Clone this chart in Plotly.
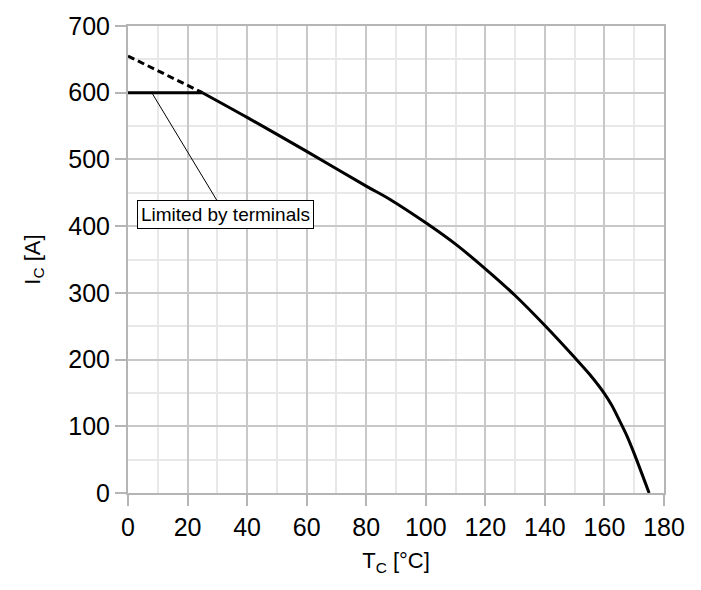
import plotly.graph_objects as go

# Collector current derating vs. case temperature
tc_curve = [25, 40, 60, 80, 88, 100, 110, 120, 130, 140, 150, 155, 160, 162.5, 165, 167.5, 170, 175]
ic_curve = [600, 563, 512, 460, 440, 405, 373, 336, 296, 251, 203, 178, 149, 131, 109, 86, 59, 0]

# Terminal current limit (flat) and the chip capability above it (dashed)
tc_limit = [0, 25]
ic_limit = [600, 600]
tc_chip = [0, 25]
ic_chip = [655, 600]

x_ticks = [0, 20, 40, 60, 80, 100, 120, 140, 160, 180]
y_ticks = [0, 100, 200, 300, 400, 500, 600, 700]

FONT = "Liberation Sans, Arial, sans-serif"

fig = go.Figure()
fig.add_trace(go.Scatter(x=tc_chip, y=ic_chip, mode="lines",
                         line=dict(color="black", width=3, dash="7px,4px"),
                         hoverinfo="skip"))
fig.add_trace(go.Scatter(x=tc_limit, y=ic_limit, mode="lines",
                         line=dict(color="black", width=3)))
fig.add_trace(go.Scatter(x=tc_curve, y=ic_curve, mode="lines",
                         line=dict(color="black", width=3, shape="spline", smoothing=0.8)))

fig.add_annotation(
    x=8, y=600, ax=32.7, ay=417.5, axref="x", ayref="y",
    text="Limited by terminals", showarrow=True, arrowhead=0,
    arrowwidth=1, arrowcolor="black",
    bordercolor="black", borderwidth=1, borderpad=3, bgcolor="white",
    font=dict(family=FONT, size=19, color="black"),
)

axis_common = dict(
    showline=True, mirror=True, linecolor="#b5b5b5", linewidth=2,
    showgrid=True, gridcolor="#c8c8c8", gridwidth=1.5,
    zeroline=False,
    ticks="outside", ticklen=11, tickwidth=2, tickcolor="#b5b5b5",
    tickfont=dict(family=FONT, size=25, color="black"),
)

fig.update_xaxes(
    range=[0, 180], tickvals=x_ticks,
    minor=dict(dtick=10, showgrid=True, gridcolor="#e8e8e8", gridwidth=1.5, ticks=""),
    title=dict(text="T<sub>C</sub> [°C]", font=dict(family=FONT, size=22, color="black"),
               standoff=13),
    **axis_common,
)
fig.update_yaxes(
    range=[0, 700], tickvals=y_ticks,
    minor=dict(dtick=50, showgrid=True, gridcolor="#e8e8e8", gridwidth=1.5, ticks=""),
    title=dict(text="I<sub>C</sub> [A]", font=dict(family=FONT, size=22, color="black"),
               standoff=22),
    **axis_common,
)

fig.update_layout(
    width=701, height=590,
    margin=dict(l=128, r=37, t=17, b=97),
    paper_bgcolor="white", plot_bgcolor="white",
    showlegend=False,
)

fig.write_html("out.html")
